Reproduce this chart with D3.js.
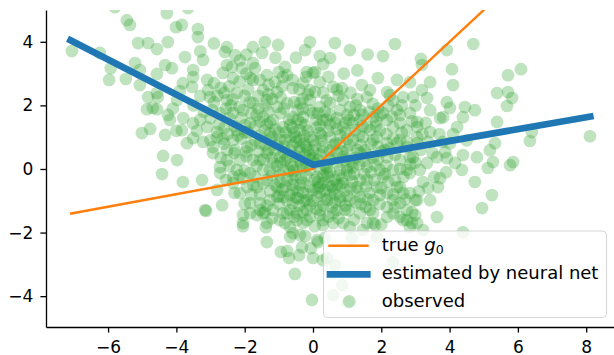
<!DOCTYPE html>
<html>
<head>
<meta charset="utf-8">
<script src="https://cdn.jsdelivr.net/npm/d3@7"></script>
<style>
  html, body { margin: 0; padding: 0; background: #fff; }
  svg { display: block; font-family: 'DejaVu Sans', sans-serif; }
</style>
</head>
<body>
<div id="chart"></div>
<script>
// observed points [x, y]
const observed = [
  // left side
  [-7.06,3.71],[-6.24,3.65],[-5.92,3.17],[-5.97,2.80],[-5.48,2.83],[-5.21,3.33],[-5.07,3.11],[-5.07,2.64],
  [-4.57,2.99],[-4.83,2.26],[-4.86,1.88],[-4.57,1.88],[-4.54,2.26],[-5.12,3.96],[-4.83,3.96],[-4.57,3.77],
  [-5.45,4.68],[-5.36,4.53],[-5.80,5.09],[-5.01,1.13],[-4.77,1.26],[-4.25,1.70],[-4.33,1.07],[-4.39,0.41],
  [-3.98,0.28],[-4.42,-0.16],[-3.81,-0.41],[-3.25,-0.35],[-3.16,-1.29],[-2.66,-1.14],[-4.19,1.54],[-3.84,1.22],
  [-3.51,0.97],[-3.51,1.44],[-3.69,0.81],[-2.93,0.69],[-2.81,1.16],[-3.22,0.85],[-2.52,0.28],[-2.72,-0.13],
  [-2.34,-0.25],[-2.14,-0.76],[-1.93,-0.57],[-1.84,-1.07],[-2.05,-1.45],[-1.55,-1.29],[-1.35,-1.70],[-1.05,-0.88],
  [-0.67,-1.29],[-0.47,-1.61],[-0.09,-1.51],[0.29,-1.61],[0.70,-1.29],[0.88,-1.70],
  // lower tail
  [-3.13,-1.32],[-2.05,-1.80],[-1.38,-1.83],[-1.35,-2.30],[-0.94,-2.61],[-0.76,-2.58],[-0.70,-2.80],[-0.53,-3.30],
  [-0.03,-4.12],[-0.41,-2.71],[0.00,-2.80],[-0.06,-2.49],[-0.23,-2.11],[-0.59,-2.02],[-0.82,-1.70],[-1.64,-1.45],
  [-1.41,-1.36],[-0.88,-1.39],[0.15,-2.30],[0.29,-2.87],[1.02,-4.19],[0.85,-3.65],[0.64,-3.02],[0.12,-2.24],
  [-0.32,-2.46],[-0.67,-2.14],[-0.38,-2.08],[0.29,-1.76],[-0.18,-1.61],[0.20,-1.45],[0.59,-1.70],[0.94,-1.29],
  [1.38,-1.39],[1.76,-1.70],[1.87,-2.14],[2.34,-2.93],[2.64,-1.61],[3.05,-1.70],[3.22,-1.92],[2.90,-1.36],
  [0.59,-3.97],[0.41,-2.80],[0.35,-2.17],[1.14,-2.17],[1.46,-1.92],[1.82,-1.76],[2.84,-1.83],[4.39,-1.99],
  // right side
  [8.11,1.03],[6.35,0.88],[6.41,1.16],[5.86,0.22],[5.77,0.12],[5.27,0.22],[5.12,0.03],[4.74,-0.41],
  [5.24,-0.82],[4.95,-1.23],[5.39,1.48],[5.33,0.81],[5.18,0.59],[4.80,0.37],[4.39,0.44],[4.36,-0.03],
  [4.16,0.19],[3.87,0.53],[3.92,0.34],[3.72,-0.29],[3.66,-0.57],[3.37,-0.60],[3.43,-0.98],[3.63,-1.51],
  [2.99,-0.98],[2.75,-1.29],[2.99,-1.45],[2.90,-1.70],[2.64,-0.76],[2.55,-1.07],[3.22,-0.41],[3.13,-0.03],
  [2.84,-0.13],[3.34,0.19],[3.63,0.37],[3.81,1.63],[4.22,1.32],[4.74,1.85],[4.39,1.63],[3.72,1.60],
  [3.43,1.16],[3.37,0.85],[4.01,0.81],[3.05,0.81],[1.67,-1.29],[2.34,-0.98],[2.46,-0.57],[2.05,-0.25],
  [2.34,-0.03],[2.84,0.37],[2.75,0.69],[2.46,0.81],[3.05,1.32],[2.55,1.44],[2.17,1.54],[1.87,1.00],
  [3.5,0.5],[3.3,1.45],[3.7,1.1],[3.9,-0.1],[4.1,1.1],[3.55,-0.25],[4.5,0.9],[3.1,-0.7],[3.8,0.85],
  // upper right
  [2.40,3.93],[2.05,3.55],[1.08,3.74],[3.16,3.46],[3.19,3.27],[3.92,3.74],[4.69,3.93],[4.07,3.14],
  [4.10,2.64],[3.43,2.73],[3.19,2.48],[3.34,2.23],[2.93,2.26],[2.84,2.73],[2.46,2.80],[1.90,2.86],
  [1.43,2.64],[1.67,2.48],[2.25,2.32],[2.64,2.26],[3.92,2.10],[4.01,1.92],[4.45,1.95],[5.39,2.39],
  [5.71,2.42],[5.83,2.23],[5.68,1.98],[5.71,2.95],[6.09,3.14],[3.05,1.48],[3.43,1.85],[2.55,1.70],[1.96,1.70],
  // upper middle
  [-4.28,4.90],[-3.66,5.06],[-4.01,4.46],[-3.84,4.53],[-3.37,4.40],[-3.37,4.15],[-4.25,3.99],[-2.52,3.83],
  [-2.58,3.68],[-1.76,3.83],[-1.41,3.99],[-1.49,3.65],[-1.02,3.90],[-0.09,3.99],[-0.23,3.74],[0.64,3.96],
  [0.50,3.49],[-3.75,3.52],[-3.22,3.43],[-4.33,3.27],[-4.13,3.17],[-3.51,3.11],[-2.52,3.27],[-2.28,3.58],
  [-2.14,3.42],[-2.08,3.17],[-2.37,3.21],[-1.76,3.33],[-1.70,3.17],[-1.35,2.95],[-0.82,3.21],[-0.76,2.95],
  [-0.18,3.05],[0.06,3.05],[0.59,2.58],[0.85,2.54],[-2.64,3.02],[-2.34,2.86],[-1.84,2.86],[-1.55,2.80],
  [-1.11,2.73],[-0.88,2.89],[-0.59,2.54],[-0.09,2.48],[-0.29,2.70],[0.20,2.73],[-3.81,2.70],[-3.51,2.89],
  [-3.10,2.80],[-3.54,2.58],[-3.07,2.48],[-4.57,2.39],[-3.98,2.17],[-4.69,1.92],
  [-3.5,2.0],[-3.2,1.8],[-2.9,2.1],[-2.6,2.4],[-2.0,2.3],[-1.6,2.3],[-1.2,2.2],[-0.9,2.6],[-0.4,2.5],
  [0.3,2.4],[0.7,2.5],[1.1,2.4],[1.3,2.2],[-4.1,1.9],[-3.8,1.6],[-4.0,1.2],[-2.6,1.3],[-3.0,1.6],
  [-1.6,1.9],[-1.3,1.8],[-0.3,1.9],[0.5,1.4],[1.0,1.7],[1.9,1.9],[2.2,2.0],[2.6,2.0],[3.0,2.0],
  [0.9,3.0],[0.3,3.3],[1.3,3.1],[-0.5,3.5],[-1.1,3.5],[1.6,3.6],
  [-2.9,2.7],[-2.45,2.6],[-2.15,2.75],[-1.95,3.0],[-1.3,2.65],[-1.0,3.05],[-0.6,2.8],[-0.2,2.9],
  [0.45,2.9],[-2.7,2.55],[-3.3,2.3],[-3.9,2.45],[-3.3,3.7],[-2.9,3.95],[-1.95,3.6],[0.2,3.55],
  // dense middle
  [-3.02,2.26],[-2.52,2.17],[-2.23,2.39],[-1.76,2.80],[-1.46,2.48],[-1.05,2.42],[0.00,3.02],[0.06,2.42],
  [0.88,2.17],[1.58,2.26],[2.17,2.42],[2.46,1.85],[2.84,1.76],[2.05,1.76],[1.76,1.63],[1.38,1.85],
  [1.08,1.95],[0.79,1.85],[0.50,2.07],[0.20,1.95],[-0.09,2.17],[-0.38,2.07],[-0.76,2.07],[-1.05,1.95],
  [-1.35,2.17],[-1.76,2.07],[-2.05,1.85],[-2.34,1.76],[-2.72,1.76],[-3.10,1.32],[-2.81,1.00],[-2.34,0.91],
  [-2.23,1.22],[-1.84,1.44],[-1.46,1.63],[-1.17,1.54],[-0.88,1.32],[-0.59,1.63],[-0.29,1.63],[0.00,1.76],
  [0.29,1.54],[0.70,1.60],[0.88,1.32],[1.17,1.44],[1.58,1.32],[1.96,1.22],[2.34,1.32],[2.75,1.22],
  [3.05,1.00],[2.55,0.91],[2.17,0.81],[1.76,0.91],[1.46,1.00],[1.17,0.91],[0.79,0.81],[0.50,1.00],
  [0.20,1.13],[-0.09,1.00],[-0.38,1.22],[-0.67,1.00],[-0.97,0.91],[-1.26,1.13],[-1.55,0.81],[-1.93,0.69],
  [-2.52,0.59],[-2.93,0.50],[-2.14,0.28],[-1.76,0.28],[-1.35,0.50],[-0.97,0.37],[-0.67,0.59],[-0.38,0.69],
  [0.00,0.59],[0.29,0.69],[0.70,0.50],[1.00,0.59],[1.38,0.50],[1.76,0.37],[2.17,0.37],[2.55,0.28],
  [2.93,0.37],[2.75,-0.03],[1.96,-0.03],[1.58,0.06],[1.17,0.06],[0.79,-0.03],[0.41,-0.13],[0.12,-0.25],
  [-0.29,0.06],[-0.59,0.06],[-0.88,-0.03],[-1.17,0.19],[-1.46,-0.03],[-1.84,-0.13],[-2.23,-0.03],[-2.72,0.06],
  [-2.81,-0.66],[-2.34,-0.44],[-1.64,-0.57],[-1.35,-0.35],[-1.05,-0.57],[-0.76,-0.35],[-0.59,-0.66],[-0.29,-0.44],
  [0.00,-0.66],[0.29,-0.44],[0.59,-0.66],[0.88,-0.44],[1.29,-0.57],[1.58,-0.35],[1.87,-0.57],[2.17,-0.76],
  [2.55,-0.57],[2.84,-0.76],[3.05,-0.98],[2.17,-1.20],[1.76,-0.98],[1.38,-0.88],[1.08,-0.98],[0.79,-0.88],
  [0.41,-0.98],[0.12,-0.88],[-0.18,-0.98],[-0.59,-1.07],[-0.88,-0.88],[-1.26,-0.98],[-1.55,-1.07],[-1.84,-1.39],
  [-1.46,-1.39],[-1.17,-1.29],[-0.76,-1.39],[-0.47,-1.39],[-0.18,-1.29],[0.20,-1.29],[0.59,-1.39],[1.76,-1.39],
  [2.17,-1.51],[2.55,-1.51],[2.75,-1.61],[1.58,-1.70],[1.08,-1.83],[-2.05,-1.70],[-0.67,-1.83],[-0.29,-1.70],
  [-0.97,-1.61],
  // core
  [-0.38,0.91],[-0.23,0.44],[0.15,0.28],[0.50,0.59],[0.94,0.28],[-0.09,-0.03],[-0.53,-0.19],[0.35,0.12],
  [0.64,-0.35],[1.08,-0.19],[-0.82,0.28],[-1.11,0.59],[-0.67,1.38],[0.20,1.38],[0.79,1.07],[1.23,1.22],
  [1.52,0.59],[1.82,0.12],[0.06,0.75],[-0.38,-0.51],[-0.97,-0.19],[-1.55,0.28],[-1.26,-0.03],[0.50,-0.82],
  [0.94,-0.66],[1.38,-0.35],[-0.67,-0.82],[-0.09,-1.14],[0.35,-0.66],[-1.41,1.22],[-1.70,0.91],[-1.99,1.38],
  [-2.28,0.59],[1.08,0.75],[1.67,1.22],[2.11,0.59],[2.40,-0.35],[1.96,-0.82],[1.38,1.54],[0.50,1.70],
  [-0.23,1.38],[-0.82,0.91],[-1.41,0.75],[-0.09,0.44],[0.50,0.28],[-0.38,0.28],[0.79,-0.51],[0.15,-0.60],
  [-0.44,-0.92],[-1.11,-0.51],
  [-2.8,2.3],[-2.4,2.0],[-1.9,2.5],[-1.4,2.0],[-0.95,2.25],[-0.55,2.1],[-0.15,2.35],[0.4,2.15],
  [0.75,2.3],[1.25,2.0],[1.75,2.05],[2.35,2.15],
  [-3.3,1.55],[-2.95,1.85],[-2.45,1.6],[-2.15,1.95],[-1.8,1.75],[-1.25,1.45],[-0.95,1.75],[-0.45,1.55],
  [-0.1,1.85],[0.35,1.8],[0.65,1.45],[1.05,1.55],[1.45,1.7],[1.85,1.5],[2.3,1.65],[2.9,1.5],
  [-3.4,1.2],[-2.75,1.4],[-2.5,1.1],[-2.0,1.15],[-1.7,1.35],[-1.35,1.4],[-1.0,1.15],[-0.55,1.15],
  [-0.25,1.05],[0.1,1.3],[0.45,1.2],[0.95,1.15],[1.35,1.05],[1.85,1.35],[2.15,1.1],[2.6,1.15],[3.2,1.1],
  [-3.0,0.9],[-2.6,0.8],[-2.1,0.95],[-1.8,0.75],[-1.25,0.9],[-0.85,0.7],[-0.5,0.85],[-0.2,0.7],
  [0.25,0.9],[0.65,0.8],[1.0,0.95],[1.4,0.75],[1.9,0.7],[2.35,0.95],[2.75,0.85],[3.15,0.6],
  [-2.7,0.35],[-2.3,0.5],[-1.95,0.4],[-1.6,0.55],[-1.2,0.35],[-0.85,0.5],[-0.5,0.4],[-0.15,0.6],
  [0.2,0.45],[0.55,0.35],[0.85,0.55],[1.25,0.35],[1.6,0.45],[2.0,0.55],[2.4,0.45],[2.85,0.15],
  [-2.45,0.1],[-2.0,-0.05],[-1.65,0.1],[-1.05,0.1],[-0.7,-0.05],[-0.35,0.15],[0.05,0.2],[0.4,0.05],
  [0.7,0.2],[1.0,-0.05],[1.35,0.15],[1.7,-0.1],[2.15,0.1],[2.55,0.0],[3.0,0.2],
  [-2.55,-0.35],[-2.05,-0.3],[-1.7,-0.25],[-1.45,-0.45],[-0.95,-0.4],[-0.6,-0.3],[-0.2,-0.2],[0.15,-0.4],
  [0.45,-0.25],[0.75,-0.2],[1.15,-0.4],[1.5,-0.15],[1.8,-0.35],[2.2,-0.4],[2.65,-0.25],
  [-2.3,-0.75],[-1.8,-0.8],[-1.25,-0.7],[-0.9,-0.65],[-0.45,-0.7],[-0.15,-0.8],[0.2,-0.75],[0.55,-0.55],
  [1.0,-0.85],[1.3,-0.7],[1.65,-0.75],[2.0,-0.6],[2.35,-0.8],[2.7,-0.95],
  [-2.0,-1.1],[-1.35,-1.15],[-1.0,-1.1],[-0.4,-1.15],[0.0,-1.0],[0.3,-1.15],[0.65,-1.05],[0.95,-1.15],
  [1.25,-1.05],[1.55,-1.2],[1.95,-1.1],[2.4,-1.2],
  [-1.2,-1.55],[-0.55,-1.5],[-0.3,-1.35],[0.05,-1.8],[0.45,-1.5],[0.75,-1.55],[1.2,-1.6],[2.0,-1.75],[2.35,-1.4],
  [-2.35,2.2],[-2.1,1.6],[-1.85,2.1],[-1.55,1.5],[-1.3,2.35],[-1.1,1.25],[-0.85,1.9],[-0.7,1.55],[-0.45,1.85],[-0.3,2.2],
  [-2.2,1.05],[-1.9,1.15],[-1.55,1.05],[-1.3,0.6],[-1.05,0.75],[-0.8,1.15],[-0.6,0.75],[-0.35,1.45],[-0.15,1.2],[0.1,1.55],
  [-0.95,0.2],[-0.75,0.35],[-0.55,-0.05],[-0.4,0.55],[-0.2,0.1],[0.0,0.35],[0.2,0.0],[0.3,0.55],[0.5,-0.1],[0.6,0.75],
  [-0.8,-0.55],[-0.6,-0.5],[-0.35,-0.3],[-0.1,-0.55],[0.05,-0.35],[0.3,-0.2],[0.45,-0.5],[0.65,-0.8],[0.85,-0.3],[1.1,-0.6],
  [-0.75,-1.0],[-0.5,-0.9],[-0.25,-1.0],[0.1,-1.25],[0.35,-0.95],[0.55,-1.2],[0.8,-1.0],[1.05,-1.3],[1.4,-1.1],[1.6,-0.95],
  [0.9,0.4],[1.15,0.2],[1.3,0.6],[1.5,0.25],[1.7,0.8],[1.9,0.3],[2.1,-0.15],[2.25,0.65],[1.55,-0.55],[1.2,-0.15],
  [0.7,1.25],[0.95,1.45],[1.2,1.7],[1.45,1.35],[1.65,1.8],[0.4,1.55],[0.15,1.75],[-0.6,1.3],[-1.2,1.0],[-1.65,1.7],
  [-2.55,1.9],[-2.3,1.35],[-2.65,0.95],[-1.95,0.55],[-1.45,0.3],[-2.15,-0.2],[-1.75,-0.5],[-1.2,-0.2],[-1.55,-0.8],[-1.0,-0.85],
  [0.0,0.9],[0.25,1.05],[-0.25,0.8],[-0.5,1.0],[-0.1,0.3],[0.2,-0.55],[-0.3,-0.75],[0.7,-0.5],[1.0,0.05],[-0.65,0.15]
];

// true g0 and the neural net estimate
const trueX = [-7.08, 0, 8.12];
const trueY = [-1.40, 0, 8.12];
const nnX = [-7.10, 0, 8.12];
const nnY = [4.05, 0.13, 1.65];

const xTicks = [-6, -4, -2, 0, 2, 4, 6, 8];
const yTicks = [-4, -2, 0, 2, 4];

const width = 614, height = 355;
const plot = { left: 46, right: 614, top: 10, bottom: 327 };

const green = '#2ca02c', orange = '#ff7f0e', blue = '#1f77b4';

const x = d3.scaleLinear().domain([-7.818, 8.814]).range([plot.left, plot.right]);
const y = d3.scaleLinear().domain([-4.97, 5.0]).range([plot.bottom, plot.top]);

const svg = d3.select('#chart').append('svg')
    .attr('width', width)
    .attr('height', height);

svg.append('defs').append('clipPath')
    .attr('id', 'plot-clip')
    .append('rect')
    .attr('x', plot.left)
    .attr('y', plot.top)
    .attr('width', plot.right - plot.left)
    .attr('height', plot.bottom - plot.top);

const body = svg.append('g').attr('clip-path', 'url(#plot-clip)');

body.selectAll('.dot')
    .data(observed)
    .enter()
    .append('circle')
    .attr('class', 'dot')
    .attr('cx', d => x(d[0]))
    .attr('cy', d => y(d[1]))
    .attr('r', 6.35)
    .attr('fill', green)
    .attr('fill-opacity', 0.3);

const line = d3.line().x(d => x(d[0])).y(d => y(d[1]));

body.append('path')
    .attr('d', line(d3.zip(trueX, trueY)))
    .attr('fill', 'none')
    .attr('stroke', orange)
    .attr('stroke-width', 2.4)
    .attr('stroke-linecap', 'square');

body.append('path')
    .attr('d', line(d3.zip(nnX, nnY)))
    .attr('fill', 'none')
    .attr('stroke', blue)
    .attr('stroke-width', 6.7)
    .attr('stroke-linecap', 'square');

// axes
const xAxis = svg.append('g')
    .attr('transform', `translate(0,${plot.bottom})`)
    .call(d3.axisBottom(x).tickValues(xTicks).tickSize(5.6).tickSizeOuter(0).tickPadding(8.6));

const yAxis = svg.append('g')
    .attr('transform', `translate(${plot.left},0)`)
    .call(d3.axisLeft(y).tickValues(yTicks).tickSize(5.6).tickSizeOuter(0).tickPadding(7.1));

[xAxis, yAxis].forEach(ax => {
    ax.select('.domain').attr('stroke', '#000').attr('stroke-width', 1.3);
    ax.selectAll('.tick line').attr('stroke', '#000').attr('stroke-width', 1.3);
    ax.selectAll('.tick text')
        .attr('fill', '#000')
        .style('font-size', '17px')
        .style('font-family', "'DejaVu Sans', sans-serif");
});

// legend
const legend = svg.append('g');

legend.append('rect')
    .attr('x', 323.5)
    .attr('y', 231)
    .attr('width', 283)
    .attr('height', 86.5)
    .attr('rx', 4)
    .attr('fill', '#fff')
    .attr('fill-opacity', 0.8)
    .attr('stroke', '#cccccc')
    .attr('stroke-opacity', 0.8)
    .attr('stroke-width', 1);

legend.append('line')
    .attr('x1', 329.5).attr('x2', 367.5)
    .attr('y1', 245.7).attr('y2', 245.7)
    .attr('stroke', orange)
    .attr('stroke-width', 2.4)
    .attr('stroke-linecap', 'square');

legend.append('line')
    .attr('x1', 330).attr('x2', 367.3)
    .attr('y1', 274.3).attr('y2', 274.3)
    .attr('stroke', blue)
    .attr('stroke-width', 6.7)
    .attr('stroke-linecap', 'square');

legend.append('circle')
    .attr('cx', 349.3)
    .attr('cy', 301.4)
    .attr('r', 6.35)
    .attr('fill', green)
    .attr('fill-opacity', 0.3);

const legendText = legend.append('g')
    .style('font-size', '18px')
    .style('font-family', "'DejaVu Sans', sans-serif")
    .attr('fill', '#000');

const t1 = legendText.append('text').attr('x', 381.7).attr('y', 251);
t1.append('tspan').text('true ');
t1.append('tspan').attr('font-style', 'italic').text('g');
t1.append('tspan').attr('font-size', '12.6px').attr('dy', 3.2).text('0');

legendText.append('text').attr('x', 381.7).attr('y', 279.3).text('estimated by neural net');
legendText.append('text').attr('x', 381.7).attr('y', 306.7).text('observed');
</script>
</body>
</html>
